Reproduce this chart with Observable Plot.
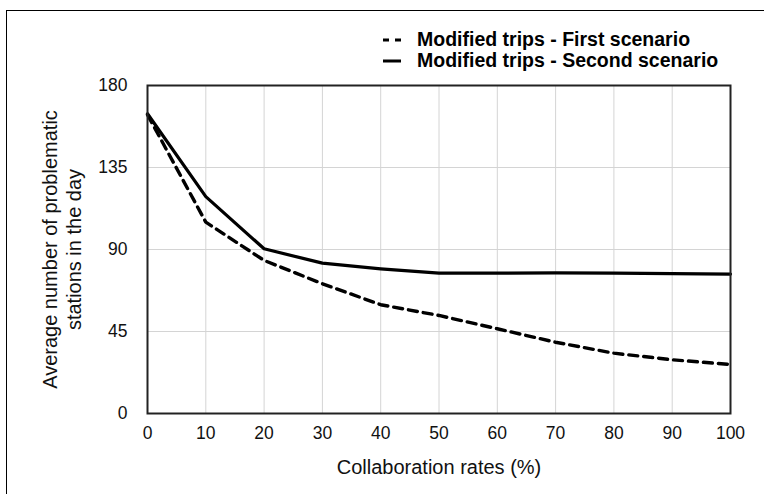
<!DOCTYPE html>
<html>
<head>
<meta charset="utf-8">
<script src="https://cdn.jsdelivr.net/npm/d3@7"></script>
<script src="https://cdn.jsdelivr.net/npm/@observablehq/plot@0.6"></script>
<style>
  html, body { margin: 0; padding: 0; background: #fff; }
  #wrap { position: relative; width: 764px; height: 494px; overflow: hidden; font-family: "Liberation Sans", Arial, Helvetica, sans-serif; }
  #border { position: absolute; left: 6px; top: 9.5px; right: -10px; bottom: -10px; border-left: 1.5px solid #000; border-top: 1.5px solid #000; pointer-events: none; }
  #legend { position: absolute; left: 382px; top: 29px; font-weight: bold; font-size: 19.5px; line-height: 21px; color: #000; }
  #legend .row { display: flex; align-items: center; white-space: nowrap; }
  #legend svg { margin-right: 16px; }
</style>
</head>
<body>
<div id="wrap">
  <div id="chart"></div>
  <div id="border"></div>
  <div id="legend"></div>
</div>
<script>
const rates = [0, 10, 20, 30, 40, 50, 60, 70, 80, 90, 100];
const firstScenario = [164, 105, 84, 71.2, 59.7, 53.8, 46.5, 39.1, 33.1, 29.5, 26.9];
const secondScenario = [164.5, 119, 90.4, 82.5, 79.4, 77, 77, 77.2, 77, 76.8, 76.5];
const seriesNames = ["Modified trips - First scenario", "Modified trips - Second scenario"];
const yTicks = [0, 45, 90, 135, 180];
const xTicks = [0, 10, 20, 30, 40, 50, 60, 70, 80, 90, 100];
const xLabel = "Collaboration rates (%)";
const yLabel = "Average number of problematic\nstations in the day";

const first = rates.map((r, i) => ({x: r, y: firstScenario[i]}));
const second = rates.map((r, i) => ({x: r, y: secondScenario[i]}));

const font = "'Liberation Sans', Arial, Helvetica, sans-serif";

const chart = Plot.plot({
  width: 764,
  height: 494,
  marginLeft: 147,
  marginRight: 34,
  marginTop: 85,
  marginBottom: 81,
  style: {fontFamily: font, fontSize: "17.5px", color: "#111", background: "transparent"},
  x: {domain: [0, 100], ticks: xTicks},
  y: {domain: [0, 180], ticks: yTicks},
  marks: [
    Plot.gridX(xTicks, {stroke: "#d4d4d4", strokeOpacity: 1, strokeWidth: 1}),
    Plot.gridY(yTicks, {stroke: "#d4d4d4", strokeOpacity: 1, strokeWidth: 1}),
    Plot.axisX(xTicks, {tickSize: 0, tickPadding: 13, fontSize: 17.5, label: null}),
    Plot.axisY(yTicks, {tickSize: 0, tickPadding: 20, fontSize: 17.5, label: null}),
    Plot.line(second, {x: "x", y: "y", stroke: "#000", strokeWidth: 3.2}),
    Plot.line(first, {x: "x", y: "y", stroke: "#000", strokeWidth: 3.4, strokeDasharray: "9,6"}),
    Plot.frame({stroke: "#222", strokeWidth: 2}),
    Plot.text([xLabel], {frameAnchor: "bottom", dy: 54, lineAnchor: "middle", fontSize: 20, fill: "#111"}),
    Plot.text([yLabel], {frameAnchor: "left", dx: -86, rotate: -90, lineAnchor: "middle", textAnchor: "middle", lineHeight: 1.2, fontSize: 20, fill: "#111"})
  ]
});
document.getElementById("chart").appendChild(chart);

const legend = document.getElementById("legend");
const dashes = ["6,6", null];
seriesNames.forEach((name, i) => {
  const row = document.createElement("div");
  row.className = "row";
  const svgNS = "http://www.w3.org/2000/svg";
  const sw = document.createElementNS(svgNS, "svg");
  sw.setAttribute("width", "19");
  sw.setAttribute("height", "10");
  const ln = document.createElementNS(svgNS, "line");
  ln.setAttribute("x1", "1"); ln.setAttribute("x2", "19");
  ln.setAttribute("y1", "5"); ln.setAttribute("y2", "5");
  ln.setAttribute("stroke", "#000");
  ln.setAttribute("stroke-width", "3");
  if (dashes[i]) ln.setAttribute("stroke-dasharray", dashes[i]);
  sw.appendChild(ln);
  row.appendChild(sw);
  const t = document.createElement("span");
  t.textContent = name;
  row.appendChild(t);
  legend.appendChild(row);
});
</script>
</body>
</html>
